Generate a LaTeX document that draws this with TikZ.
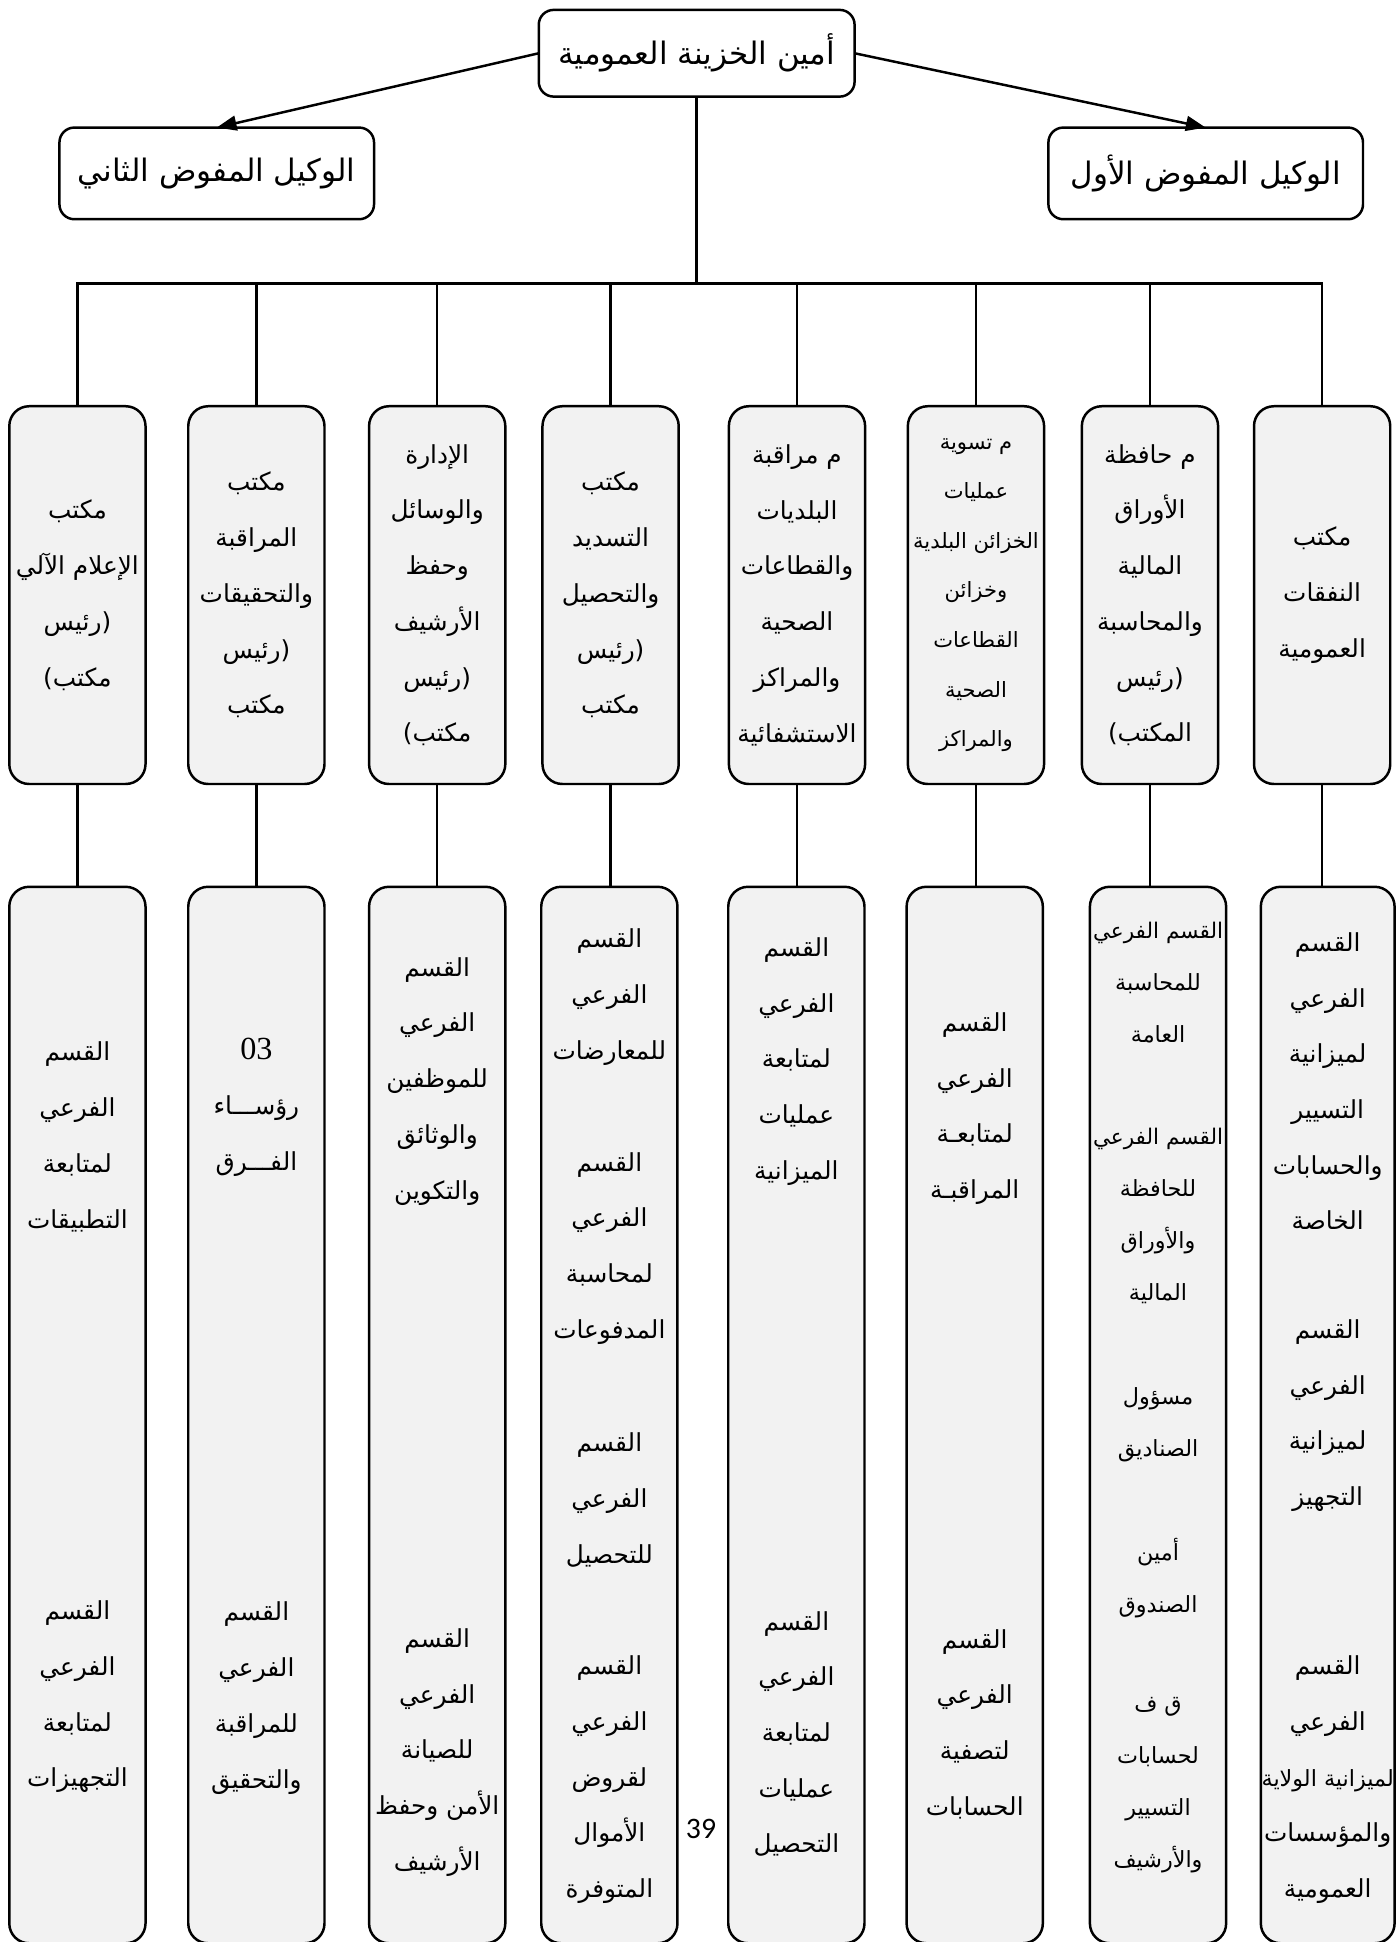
\documentclass[tikz,border=0pt]{standalone}
\usepackage{fontspec}
\usetikzlibrary{arrows.meta}
\TeXXeTstate=1
\newfontfamily\arabicfont[Script=Arabic]{DejaVu Sans}
\newfontfamily\plainfont{DejaVu Sans}
\newfontfamily\pgnumfont{Carlito}
\newfontfamily\latinnum{Liberation Serif}
\newcommand\AR[1]{\beginR#1\endR}
\newcommand\W[1]{\mbox{#1}}
\newcommand\OP{{\plainfont(}}
\newcommand\CP{{\plainfont)}}
\definecolor{boxgray}{HTML}{F2F2F2}
\begin{document}
\begin{tikzpicture}[x=0.5pt,y=-0.5pt,
  headbox/.style={draw, line width=1pt, rounded corners=6pt, fill=white, inner sep=0pt, outer sep=0pt,
    font=\arabicfont\fontsize{12.5}{16}\selectfont},
  rowbox/.style={draw, line width=1pt, rounded corners=8pt, fill=boxgray, inner sep=0pt, outer sep=0pt,
    minimum width=55pt, align=center, font=\arabicfont\fontsize{10}{22.5}\selectfont},
  upbox/.style={rowbox, minimum height=152.5pt},
  lowbox/.style={rowbox, minimum height=426.5pt},
  txt/.style={align=center, inner sep=0pt, font=\arabicfont\fontsize{10}{22.5}\selectfont},
  smalltxt/.style={align=center, inner sep=0pt, font=\arabicfont\fontsize{9}{21}\selectfont},
  conn/.style={line width=1pt},
  arr/.style={line width=1pt, -{Triangle[length=8pt,width=6pt]}}
]
\useasboundingbox (0,0) rectangle (1128,1568);
\clip (0,0) rectangle (1128,1568);

% top level
\node[headbox, minimum width=127.5pt, minimum height=35pt] (top) at (562.5,43) {\AR{أمين الخزينة العمومية}};
\node[headbox, minimum width=127pt, minimum height=37pt] (left) at (175,140) {\AR{الوكيل المفوض الثاني}};
\node[headbox, minimum width=127pt, minimum height=37pt] (right) at (973.5,140) {\AR{الوكيل المفوض الأول}};
\draw[arr] (top.west) -- (left.north);
\draw[arr] (top.east) -- (right.north);

% row 1
\node[upbox] (b1) at (62.5,480.5) {\AR{مكتب}\\\AR{الإعلام الآلي}\\\W{رئيس}\CP\\\OP\W{مكتب}};
\node[upbox] (b2) at (207,480.5) {\AR{مكتب}\\\AR{المراقبة}\\\AR{والتحقيقات}\\\W{رئيس}\CP\\\AR{مكتب}};
\node[upbox] (b3) at (353,480.5) {\AR{الإدارة}\\\AR{والوسائل}\\\AR{وحفظ}\\\AR{الأرشيف}\\\W{رئيس}\CP\\\OP\W{مكتب}};
\node[upbox] (b4) at (493,480.5) {\AR{مكتب}\\\AR{التسديد}\\\AR{والتحصيل}\\\W{رئيس}\CP\\\AR{مكتب}};
\node[upbox] (b5) at (643.5,480.5) {\AR{م مراقبة}\\\AR{البلديات}\\\AR{والقطاعات}\\\AR{الصحية}\\\AR{والمراكز}\\\AR{الاستشفائية}};
\node[upbox, font=\arabicfont\fontsize{8.5}{20}\selectfont] (b6) at (788,480.5) {\AR{م تسوية}\\\AR{عمليات}\\\AR{الخزائن البلدية}\\\AR{وخزائن}\\\AR{القطاعات}\\\AR{الصحية}\\\AR{والمراكز}};
\node[upbox] (b7) at (928.5,480.5) {\AR{م حافظة}\\\AR{الأوراق}\\\AR{المالية}\\\AR{والمحاسبة}\\\W{رئيس}\CP\\\OP\W{المكتب}};
\node[upbox] (b8) at (1067.5,480.5) {\AR{مكتب}\\\AR{النفقات}\\\AR{العمومية}};

% connectors top -> row 1
\coordinate (bar) at (562.5,229);
\draw[conn] (top.south) -- (bar);
\draw[conn] (b1.north) |- (bar) -| (b8.north);
\foreach \i in {2,...,7} \draw[conn] (b\i.north) -- (b\i.north |- bar);

% row 2 boxes
\node[lowbox] (c1) at (62.5,1142.5) {};
\node[lowbox] (c2) at (207,1142.5) {};
\node[lowbox] (c3) at (353,1142.5) {};
\node[lowbox] (c4) at (492,1142.5) {};
\node[lowbox] (c5) at (643,1142.5) {};
\node[lowbox] (c6) at (787,1142.5) {};
\node[lowbox] (c7) at (935,1142.5) {};
\node[lowbox, minimum width=54pt] (c8) at (1072,1142.5) {};
\foreach \i in {1,...,8} \draw[conn] (b\i.south) -- (b\i.south |- c\i.north);

% row 2 texts
\node[txt] (t1a) at (62.5,918) {\AR{القسم}\\\AR{الفرعي}\\\AR{لمتابعة}\\\AR{التطبيقات}};
\node[txt] (t1b) at (62.5,1370) {\AR{القسم}\\\AR{الفرعي}\\\AR{لمتابعة}\\\AR{التجهيزات}};

\node[txt] (t2a) at (207,894) {{\latinnum\fontsize{13}{22.5}\selectfont 03}\\\AR{رؤســـاء}\\\AR{الفـــرق}};
\node[txt] (t2b) at (207,1371) {\AR{القسم}\\\AR{الفرعي}\\\AR{للمراقبة}\\\AR{والتحقيق}};

\node[txt] (t3a) at (353,873) {\AR{القسم}\\\AR{الفرعي}\\\AR{للموظفين}\\\AR{والوثائق}\\\AR{والتكوين}};
\node[txt] (t3b) at (353,1415) {\AR{القسم}\\\AR{الفرعي}\\\AR{للصيانة}\\\AR{الأمن وحفظ}\\\AR{الأرشيف}};

\node[txt] (t4a) at (492,805) {\AR{القسم}\\\AR{الفرعي}\\\AR{للمعارضات}};
\node[txt] (t4b) at (492,1008) {\AR{القسم}\\\AR{الفرعي}\\\AR{لمحاسبة}\\\AR{المدفوعات}};
\node[txt] (t4c) at (492,1211) {\AR{القسم}\\\AR{الفرعي}\\\AR{للتحصيل}};
\node[txt] (t4d) at (492,1437) {\AR{القسم}\\\AR{الفرعي}\\\AR{لقروض}\\\AR{الأموال}\\\AR{المتوفرة}};

\node[txt] (t5a) at (643,857) {\AR{القسم}\\\AR{الفرعي}\\\AR{لمتابعة}\\\AR{عمليات}\\\AR{الميزانية}};
\node[txt] (t5b) at (643,1400) {\AR{القسم}\\\AR{الفرعي}\\\AR{لمتابعة}\\\AR{عمليات}\\\AR{التحصيل}};

\node[txt] (t6a) at (787,895) {\AR{القسم}\\\AR{الفرعي}\\\AR{لمتابعـة}\\\AR{المراقبـة}};
\node[txt] (t6b) at (787,1392) {\AR{القسم}\\\AR{الفرعي}\\\AR{لتصفية}\\\AR{الحسابات}};

\node[smalltxt] (t7a) at (935,793) {{\fontsize{8.7}{21}\selectfont\AR{القسم الفرعي}}\\\AR{للمحاسبة}\\\AR{العامة}};
\node[smalltxt] (t7b) at (935,982) {{\fontsize{8.7}{21}\selectfont\AR{القسم الفرعي}}\\\AR{للحافظة}\\\AR{والأوراق}\\\AR{المالية}};
\node[smalltxt] (t7c) at (935,1150) {\AR{مسؤول}\\\AR{الصناديق}};
\node[smalltxt] (t7d) at (935,1274) {\AR{أمين}\\\AR{الصندوق}};
\node[smalltxt] (t7e) at (935,1441) {\AR{ق ف}\\\AR{لحسابات}\\\AR{التسيير}\\\AR{والأرشيف}};

\node[txt] (t8a) at (1072,873) {\AR{القسم}\\\AR{الفرعي}\\\AR{لميزانية}\\\AR{التسيير}\\\AR{والحسابات}\\\AR{الخاصة}};
\node[txt] (t8b) at (1072,1143) {\AR{القسم}\\\AR{الفرعي}\\\AR{لميزانية}\\\AR{التجهيز}};
\node[txt] (t8c) at (1072,1437) {\AR{القسم}\\\AR{الفرعي}\\{\fontsize{9}{22.5}\selectfont\AR{لميزانية الولاية}}\\\AR{والمؤسسات}\\\AR{العمومية}};

% page number
\node[font=\pgnumfont\fontsize{12}{14}\selectfont, inner sep=0pt] (pg) at (566,1477) {39};
\end{tikzpicture}
\end{document}
